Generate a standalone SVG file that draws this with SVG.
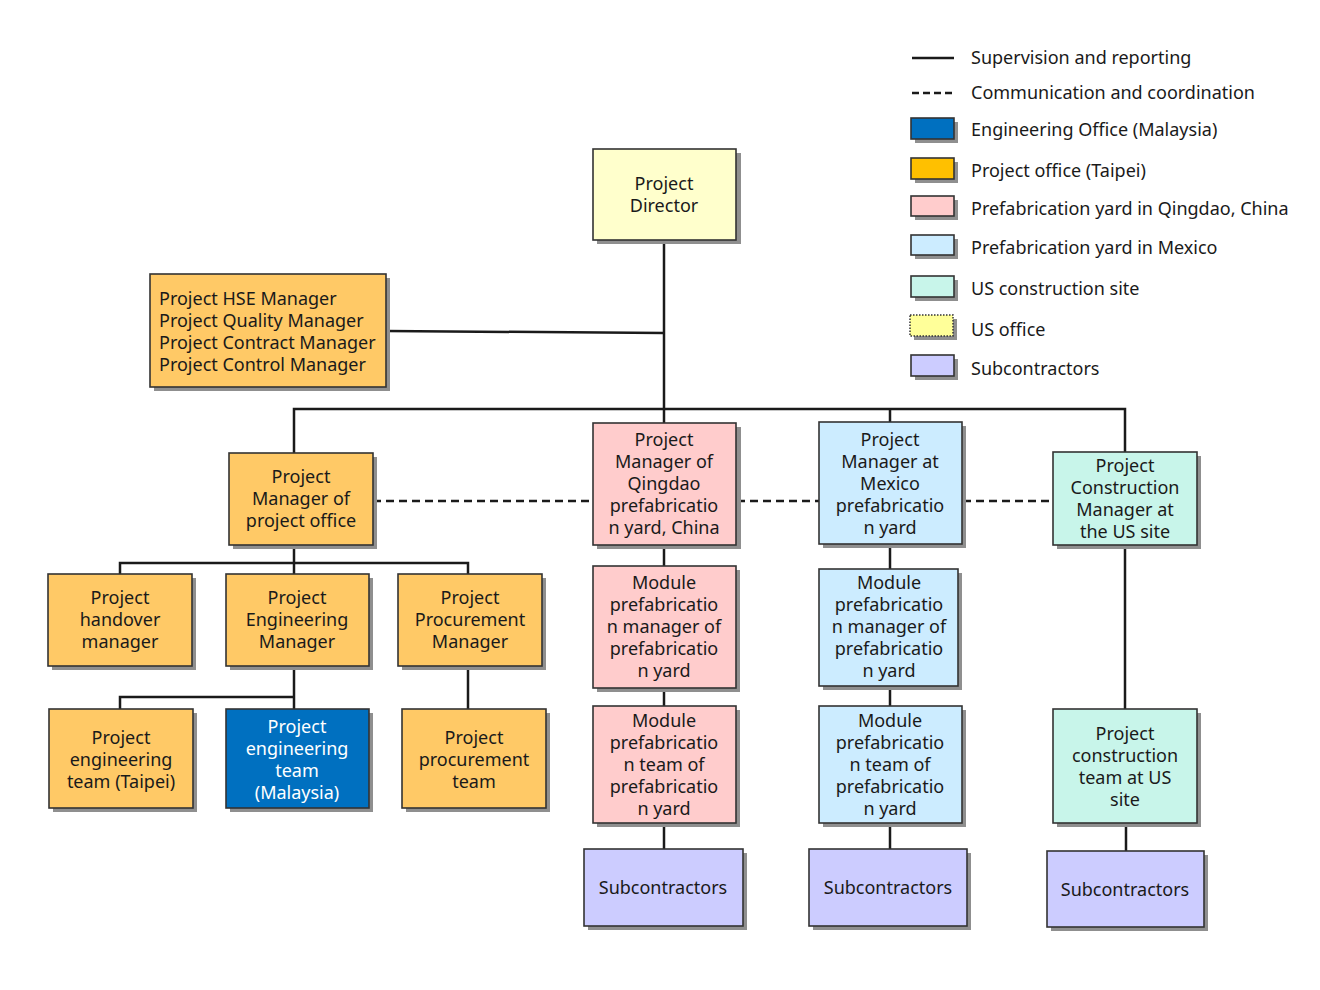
<svg xmlns="http://www.w3.org/2000/svg" width="1320" height="990" viewBox="0 0 1320 990">
<style>
text{font-family:"Noto Sans","Open Sans","DejaVu Sans",sans-serif;font-size:18px;fill:#1a1a1a}
.c{text-anchor:middle}
.w{fill:#ffffff}
.b{stroke:#333333;stroke-width:1.6}
.sh{fill:#8f8f8f}
.or{fill:#FFC966}
.pk{fill:#FFCCCC}
.lb{fill:#CCECFF}
.mt{fill:#C8F5EA}
.lv{fill:#CCCCFF}
.ye{fill:#FFFFCC}
.bl{fill:#0070C0}
.ln{stroke:#1a1a1a;stroke-width:2.5;fill:none}
.ds{stroke:#1a1a1a;stroke-width:2.5;fill:none;stroke-dasharray:8 5}
</style>
<rect width="1320" height="990" fill="#ffffff"/>
<g id="connectors">
<line class="ln" x1="664" y1="240" x2="664" y2="409"/>
<line class="ln" x1="387" y1="331" x2="664" y2="333"/>
<polyline class="ln" points="294,453 294,409 1125,409 1125,452"/>
<line class="ln" x1="664" y1="409" x2="664" y2="423"/>
<line class="ln" x1="890" y1="409" x2="890" y2="422"/>
<line class="ds" x1="373" y1="501" x2="593" y2="501"/>
<line class="ds" x1="737" y1="501" x2="819" y2="501"/>
<line class="ds" x1="963" y1="501" x2="1053" y2="501"/>
<line class="ln" x1="294" y1="545" x2="294" y2="563"/>
<polyline class="ln" points="120,574 120,563 468,563 468,574"/>
<line class="ln" x1="294" y1="563" x2="294" y2="574"/>
<line class="ln" x1="294" y1="666" x2="294" y2="709"/>
<polyline class="ln" points="120,709 120,697 294,697"/>
<line class="ln" x1="468" y1="666" x2="468" y2="709"/>
<line class="ln" x1="664" y1="545" x2="664" y2="566"/>
<line class="ln" x1="664" y1="688" x2="664" y2="706"/>
<line class="ln" x1="664" y1="823" x2="664" y2="849"/>
<line class="ln" x1="890" y1="544" x2="890" y2="569"/>
<line class="ln" x1="890" y1="686" x2="890" y2="706"/>
<line class="ln" x1="890" y1="823" x2="890" y2="849"/>
<line class="ln" x1="1125" y1="545" x2="1125" y2="709"/>
<line class="ln" x1="1126" y1="823" x2="1126" y2="851"/>
</g>
<g id="director">
<rect class="sh" x="597" y="153" width="144" height="91"/>
<rect class="ye b" x="593" y="149" width="143" height="91"/>
<text class="c" x="664" y="190">Project</text>
<text class="c" x="664" y="212">Director</text>
</g>
<g id="staff">
<rect class="sh" x="154" y="278" width="236" height="113"/>
<rect class="or b" x="150" y="274" width="236" height="113"/>
<text x="159" y="305">Project HSE Manager</text>
<text x="159" y="327">Project Quality Manager</text>
<text x="159" y="349">Project Contract Manager</text>
<text x="159" y="371">Project Control Manager</text>
</g>
<g id="pm-office">
<rect class="sh" x="233" y="457" width="144" height="92"/>
<rect class="or b" x="229" y="453" width="144" height="92"/>
<text class="c" x="301" y="483">Project</text>
<text class="c" x="301" y="505">Manager of</text>
<text class="c" x="301" y="527">project office</text>
</g>
<g id="pm-qingdao">
<rect class="sh" x="597" y="427" width="144" height="122"/>
<rect class="pk b" x="593" y="423" width="143" height="122"/>
<text class="c" x="664" y="446">Project</text>
<text class="c" x="664" y="468">Manager of</text>
<text class="c" x="664" y="490">Qingdao</text>
<text class="c" x="664" y="512">prefabricatio</text>
<text class="c" x="664" y="534">n yard, China</text>
</g>
<g id="pm-mexico">
<rect class="sh" x="823" y="426" width="143" height="122"/>
<rect class="lb b" x="819" y="422" width="143" height="122"/>
<text class="c" x="890" y="446">Project</text>
<text class="c" x="890" y="468">Manager at</text>
<text class="c" x="890" y="490">Mexico</text>
<text class="c" x="890" y="512">prefabricatio</text>
<text class="c" x="890" y="534">n yard</text>
</g>
<g id="cm-us">
<rect class="sh" x="1057" y="456" width="144" height="93"/>
<rect class="mt b" x="1053" y="452" width="144" height="93"/>
<text class="c" x="1125" y="472">Project</text>
<text class="c" x="1125" y="494">Construction</text>
<text class="c" x="1125" y="516">Manager at</text>
<text class="c" x="1125" y="538">the US site</text>
</g>
<g id="handover">
<rect class="sh" x="52" y="578" width="144" height="92"/>
<rect class="or b" x="48" y="574" width="144" height="92"/>
<text class="c" x="120" y="604">Project</text>
<text class="c" x="120" y="626">handover</text>
<text class="c" x="120" y="648">manager</text>
</g>
<g id="eng-manager">
<rect class="sh" x="230" y="578" width="143" height="92"/>
<rect class="or b" x="226" y="574" width="143" height="92"/>
<text class="c" x="297" y="604">Project</text>
<text class="c" x="297" y="626">Engineering</text>
<text class="c" x="297" y="648">Manager</text>
</g>
<g id="proc-manager">
<rect class="sh" x="402" y="578" width="144" height="92"/>
<rect class="or b" x="398" y="574" width="144" height="92"/>
<text class="c" x="470" y="604">Project</text>
<text class="c" x="470" y="626">Procurement</text>
<text class="c" x="470" y="648">Manager</text>
</g>
<g id="eng-taipei">
<rect class="sh" x="53" y="713" width="144" height="99"/>
<rect class="or b" x="49" y="709" width="144" height="99"/>
<text class="c" x="121" y="744">Project</text>
<text class="c" x="121" y="766">engineering</text>
<text class="c" x="121" y="788">team (Taipei)</text>
</g>
<g id="eng-malaysia">
<rect class="sh" x="230" y="713" width="143" height="99"/>
<rect class="bl b" x="226" y="709" width="143" height="99"/>
<text class="c w" x="297" y="733">Project</text>
<text class="c w" x="297" y="755">engineering</text>
<text class="c w" x="297" y="777">team</text>
<text class="c w" x="297" y="799">(Malaysia)</text>
</g>
<g id="proc-team">
<rect class="sh" x="406" y="713" width="144" height="99"/>
<rect class="or b" x="402" y="709" width="144" height="99"/>
<text class="c" x="474" y="744">Project</text>
<text class="c" x="474" y="766">procurement</text>
<text class="c" x="474" y="788">team</text>
</g>
<g id="mod-mgr-qingdao">
<rect class="sh" x="597" y="570" width="143" height="122"/>
<rect class="pk b" x="593" y="566" width="143" height="122"/>
<text class="c" x="664" y="589">Module</text>
<text class="c" x="664" y="611">prefabricatio</text>
<text class="c" x="664" y="633">n manager of</text>
<text class="c" x="664" y="655">prefabricatio</text>
<text class="c" x="664" y="677">n yard</text>
</g>
<g id="mod-mgr-mexico">
<rect class="sh" x="823" y="573" width="139" height="117"/>
<rect class="lb b" x="819" y="569" width="139" height="117"/>
<text class="c" x="889" y="589">Module</text>
<text class="c" x="889" y="611">prefabricatio</text>
<text class="c" x="889" y="633">n manager of</text>
<text class="c" x="889" y="655">prefabricatio</text>
<text class="c" x="889" y="677">n yard</text>
</g>
<g id="mod-team-qingdao">
<rect class="sh" x="597" y="710" width="143" height="117"/>
<rect class="pk b" x="593" y="706" width="143" height="117"/>
<text class="c" x="664" y="727">Module</text>
<text class="c" x="664" y="749">prefabricatio</text>
<text class="c" x="664" y="771">n team of</text>
<text class="c" x="664" y="793">prefabricatio</text>
<text class="c" x="664" y="815">n yard</text>
</g>
<g id="mod-team-mexico">
<rect class="sh" x="823" y="710" width="143" height="117"/>
<rect class="lb b" x="819" y="706" width="143" height="117"/>
<text class="c" x="890" y="727">Module</text>
<text class="c" x="890" y="749">prefabricatio</text>
<text class="c" x="890" y="771">n team of</text>
<text class="c" x="890" y="793">prefabricatio</text>
<text class="c" x="890" y="815">n yard</text>
</g>
<g id="us-team">
<rect class="sh" x="1057" y="713" width="144" height="114"/>
<rect class="mt b" x="1053" y="709" width="144" height="114"/>
<text class="c" x="1125" y="740">Project</text>
<text class="c" x="1125" y="762">construction</text>
<text class="c" x="1125" y="784">team at US</text>
<text class="c" x="1125" y="806">site</text>
</g>
<g id="sub-qingdao">
<rect class="sh" x="588" y="853" width="159" height="77"/>
<rect class="lv b" x="584" y="849" width="159" height="77"/>
<text class="c" x="663" y="894">Subcontractors</text>
</g>
<g id="sub-mexico">
<rect class="sh" x="813" y="853" width="158" height="77"/>
<rect class="lv b" x="809" y="849" width="158" height="77"/>
<text class="c" x="888" y="894">Subcontractors</text>
</g>
<g id="sub-us">
<rect class="sh" x="1051" y="855" width="157" height="76"/>
<rect class="lv b" x="1047" y="851" width="157" height="76"/>
<text class="c" x="1125" y="896">Subcontractors</text>
</g>
<g id="legend">
<line class="ln" x1="912" y1="58" x2="954" y2="58"/>
<text x="971" y="64">Supervision and reporting</text>
<line class="ds" x1="912" y1="93" x2="954" y2="93" style="stroke-dasharray:7 4"/>
<text x="971" y="99">Communication and coordination</text>
<rect class="sh" x="915" y="122" width="43" height="21"/>
<rect class="bl b" x="911" y="118" width="43" height="21"/>
<text x="971" y="136">Engineering Office (Malaysia)</text>
<rect class="sh" x="915" y="162" width="43" height="21"/>
<rect class="b" fill="#FFC000" x="911" y="158" width="43" height="21"/>
<text x="971" y="177">Project office (Taipei)</text>
<rect class="sh" x="915" y="200" width="43" height="20"/>
<rect class="pk b" x="911" y="196" width="43" height="20"/>
<text x="971" y="215">Prefabrication yard in Qingdao, China</text>
<rect class="sh" x="915" y="239" width="43" height="20"/>
<rect class="lb b" x="911" y="235" width="43" height="20"/>
<text x="971" y="254">Prefabrication yard in Mexico</text>
<rect class="sh" x="915" y="280" width="43" height="21"/>
<rect class="mt b" x="911" y="276" width="43" height="21"/>
<text x="971" y="295">US construction site</text>
<rect class="sh" x="914" y="319" width="43" height="21"/>
<rect fill="#FFFF99" stroke="#333333" stroke-width="1.5" stroke-dasharray="1.5 1.5" x="910" y="315" width="43" height="21"/>
<text x="971" y="336">US office</text>
<rect class="sh" x="915" y="359" width="43" height="21"/>
<rect class="lv b" x="911" y="355" width="43" height="21"/>
<text x="971" y="375">Subcontractors</text>
</g>
</svg>
